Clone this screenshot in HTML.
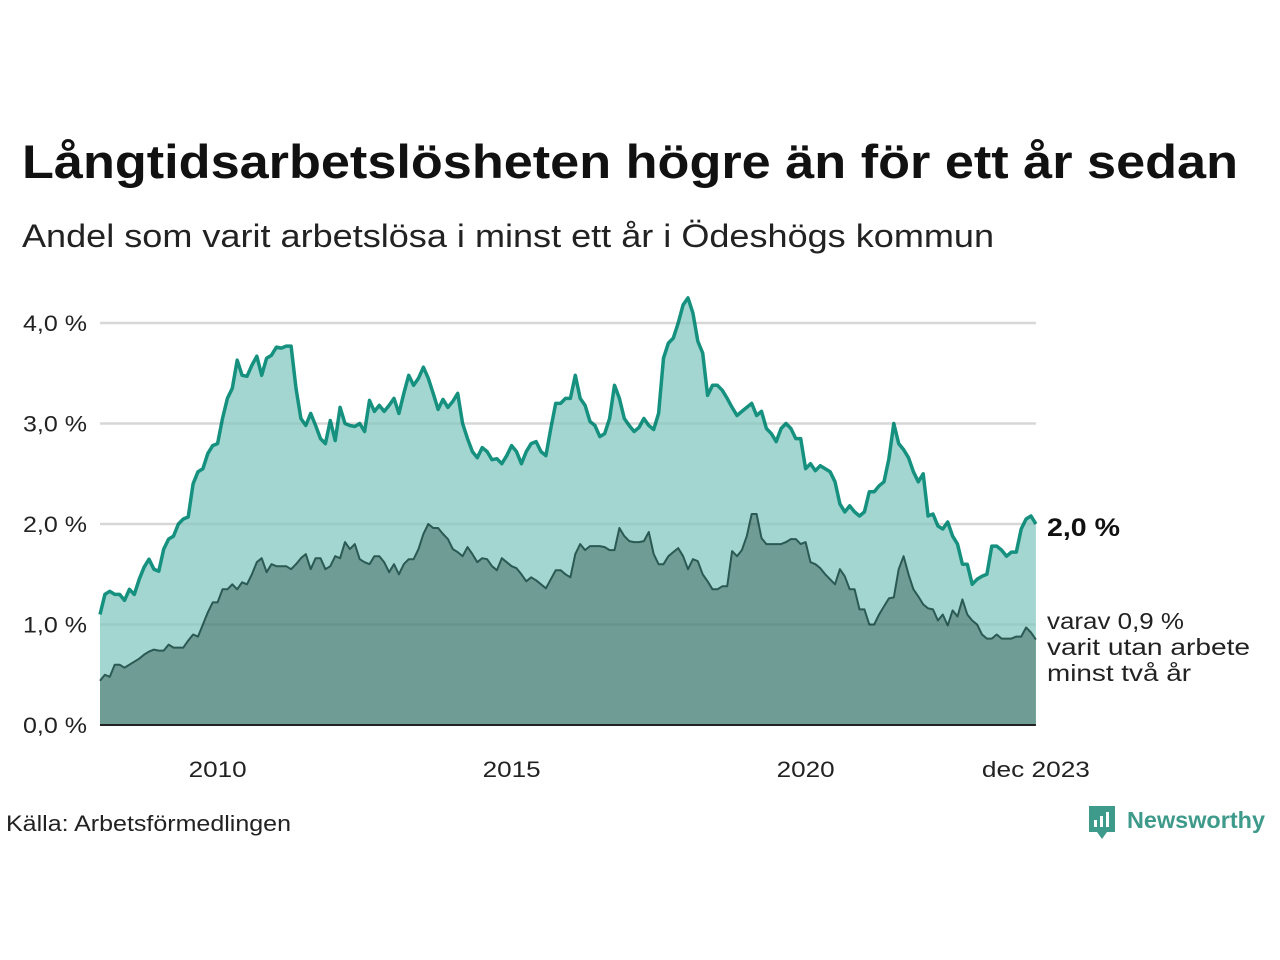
<!DOCTYPE html>
<html><head><meta charset="utf-8"><style>
body{margin:0;background:#fff;font-family:"Liberation Sans","DejaVu Sans",sans-serif}
svg{display:block}
</style></head><body>
<svg width="1280" height="960" viewBox="0 0 1280 960">
<text x="22" y="178" font-size="47" font-weight="bold" fill="#111" textLength="1216" lengthAdjust="spacingAndGlyphs">Långtidsarbetslösheten högre än för ett år sedan</text>
<text x="22" y="247" font-size="32" fill="#222" textLength="972" lengthAdjust="spacingAndGlyphs">Andel som varit arbetslösa i minst ett år i Ödeshögs kommun</text>
<g id="grid"></g>
<g id="areas"></g>
<g id="labels"></g>
<text x="1047" y="536" font-size="25" font-weight="bold" fill="#111" textLength="73" lengthAdjust="spacingAndGlyphs">2,0 %</text>
<text font-size="23" fill="#222"><tspan x="1047" y="629" textLength="137" lengthAdjust="spacingAndGlyphs">varav 0,9 %</tspan><tspan x="1047" y="655" textLength="203" lengthAdjust="spacingAndGlyphs">varit utan arbete</tspan><tspan x="1047" y="681" textLength="144" lengthAdjust="spacingAndGlyphs">minst två år</tspan></text>
<text x="6" y="831" font-size="22" fill="#222" textLength="285" lengthAdjust="spacingAndGlyphs">Källa: Arbetsförmedlingen</text>
<g>
<path d="M1089 806h26v26h-8l-5 7-5-7h-8z" fill="#3e9a8a"/>
<rect x="1094" y="820" width="3" height="7" fill="#fff"/><rect x="1100" y="816" width="3" height="11" fill="#fff"/><rect x="1106" y="812" width="3" height="15" fill="#fff"/>
<text x="1127" y="828" font-size="23" font-weight="bold" fill="#3e9a8a" textLength="138" lengthAdjust="spacingAndGlyphs">Newsworthy</text>
</g>
</svg>
<script>
const years=[2008,2009,2010,2011,2012,2013,2014,2015,2016,2017,2018,2019,2020,2021,2022,2023];
const totalSeries=[
1.1,1.3,1.33,1.3,1.3,1.24,1.35,1.3,1.45,1.57,1.65,1.55,
1.53,1.75,1.85,1.88,2.0,2.05,2.07,2.4,2.52,2.55,2.7,2.78,
2.8,3.05,3.25,3.35,3.63,3.48,3.47,3.58,3.67,3.48,3.65,3.68,
3.76,3.75,3.77,3.77,3.35,3.05,2.98,3.1,2.98,2.85,2.8,3.03,
2.83,3.16,3.0,2.98,2.97,3.0,2.92,3.23,3.12,3.18,3.12,3.18,
3.25,3.1,3.3,3.48,3.38,3.45,3.56,3.45,3.3,3.14,3.24,3.16,
3.22,3.3,3.0,2.85,2.72,2.66,2.76,2.72,2.64,2.65,2.6,2.68,
2.78,2.72,2.6,2.72,2.8,2.82,2.72,2.68,2.95,3.2,3.2,3.25,
3.25,3.48,3.25,3.18,3.02,2.98,2.87,2.9,3.05,3.38,3.25,3.05,
2.98,2.92,2.96,3.05,2.98,2.94,3.1,3.65,3.8,3.85,4.0,4.18,
4.25,4.1,3.82,3.7,3.28,3.38,3.38,3.33,3.25,3.16,3.08,3.12,
3.16,3.2,3.08,3.12,2.95,2.9,2.82,2.95,3.0,2.95,2.85,2.85,
2.55,2.6,2.53,2.58,2.55,2.52,2.42,2.2,2.12,2.18,2.12,2.08,
2.12,2.32,2.32,2.38,2.42,2.65,3.0,2.8,2.74,2.66,2.52,2.42,
2.5,2.08,2.1,1.98,1.95,2.02,1.88,1.8,1.6,1.6,1.4,1.45,
1.48,1.5,1.78,1.78,1.74,1.68,1.72,1.72,1.95,2.05,2.08,2.0];
const longSeries=[
0.44,0.5,0.48,0.6,0.6,0.57,0.6,0.63,0.66,0.7,0.73,0.75,
0.74,0.74,0.8,0.77,0.77,0.77,0.84,0.9,0.88,1.0,1.12,1.22,
1.22,1.35,1.35,1.4,1.35,1.42,1.4,1.5,1.62,1.66,1.52,1.6,
1.58,1.58,1.58,1.55,1.6,1.66,1.7,1.55,1.66,1.66,1.55,1.58,
1.68,1.66,1.82,1.75,1.8,1.65,1.62,1.6,1.68,1.68,1.62,1.52,
1.6,1.5,1.6,1.65,1.65,1.75,1.9,2.0,1.96,1.96,1.9,1.85,
1.75,1.72,1.68,1.77,1.7,1.62,1.66,1.65,1.58,1.54,1.66,1.62,
1.58,1.56,1.5,1.43,1.47,1.44,1.4,1.36,1.45,1.54,1.54,1.5,
1.47,1.7,1.8,1.74,1.78,1.78,1.78,1.77,1.74,1.74,1.96,1.88,
1.83,1.82,1.82,1.83,1.92,1.7,1.6,1.6,1.68,1.72,1.76,1.68,
1.55,1.65,1.63,1.5,1.43,1.35,1.35,1.38,1.38,1.73,1.68,1.74,
1.88,2.1,2.1,1.86,1.8,1.8,1.8,1.8,1.82,1.85,1.85,1.8,
1.82,1.62,1.6,1.56,1.5,1.45,1.4,1.55,1.48,1.35,1.35,1.15,
1.15,1.0,1.0,1.1,1.18,1.26,1.27,1.55,1.68,1.5,1.35,1.28,
1.2,1.16,1.15,1.04,1.1,0.99,1.14,1.08,1.25,1.1,1.04,1.0,
0.9,0.86,0.86,0.9,0.86,0.86,0.86,0.88,0.88,0.97,0.92,0.85];
const yTicks=[0,1,2,3,4];
const yTickLabels=["0,0 %","1,0 %","2,0 %","3,0 %","4,0 %"];
const xTicks=[2010,2015,2020];
const xTickLabels=["2010","2015","2020"];
const NS="http://www.w3.org/2000/svg";
const x0=100,pxYear=58.8,yBase=725,pxUnit=100.5;
const xScale=t=>x0+(t-years[0])*pxYear;
const yScale=v=>yBase-v*pxUnit;
const xIdx=i=>xScale(years[0]+i/12);
function mk(tag,attrs,parent){const e=document.createElementNS(NS,tag);for(const k in attrs)e.setAttribute(k,attrs[k]);parent.appendChild(e);return e;}
const grid=document.getElementById('grid'),areas=document.getElementById('areas'),labels=document.getElementById('labels');
const xEnd=xIdx(totalSeries.length-1);
yTicks.forEach((v,i)=>{
  if(v>0){const l=mk('line',{x1:x0,x2:xEnd,y1:yScale(v),y2:yScale(v),stroke:'#e3e3e3','stroke-width':2.5},grid);
  
  }
  const t=mk('text',{x:87,y:yScale(v)+8,'text-anchor':'end','font-size':22,fill:'#222',textLength:64,lengthAdjust:'spacingAndGlyphs'},labels);
  t.textContent=yTickLabels[i];
  
  
});
xTicks.forEach((yr,i)=>{
  const t=mk('text',{x:xScale(yr),y:777,'text-anchor':'middle','font-size':22,fill:'#222',textLength:58,lengthAdjust:'spacingAndGlyphs'},labels);
  t.textContent=xTickLabels[i];
  
  
});
const tl=mk('text',{x:xEnd,y:777,'text-anchor':'middle','font-size':22,fill:'#222',textLength:108,lengthAdjust:'spacingAndGlyphs'},labels);
tl.textContent='dec 2023';


function pts(arr){return arr.map((v,i)=>xIdx(i).toFixed(1)+','+yScale(v).toFixed(1)).join(' ');}
function area(arr,fill,stroke,sw,name){
  const p=pts(arr);
  const a=mk('polygon',{points:x0+','+yBase+' '+p+' '+xIdx(arr.length-1)+','+yBase,fill:fill},areas);
  
  
  const l=mk('polyline',{points:p,fill:'none',stroke:stroke,'stroke-width':sw,'stroke-linejoin':'round'},areas);
  
  
}
area(totalSeries,'#a3d6d0','#16917f',3.5,'total-unemployed');
area(longSeries,'#6f9c95','#2b5953',2,'long-term-unemployed');
yTicks.forEach(v=>{if(v>0){const l=mk('line',{x1:x0,x2:xEnd,y1:yScale(v),y2:yScale(v),stroke:'#000','stroke-opacity':0.05,'stroke-width':2.5},areas);

}});
const ax=mk('line',{x1:x0,x2:xEnd,y1:yBase,y2:yBase,stroke:'#222','stroke-width':2},areas);


</script>
</body></html>
